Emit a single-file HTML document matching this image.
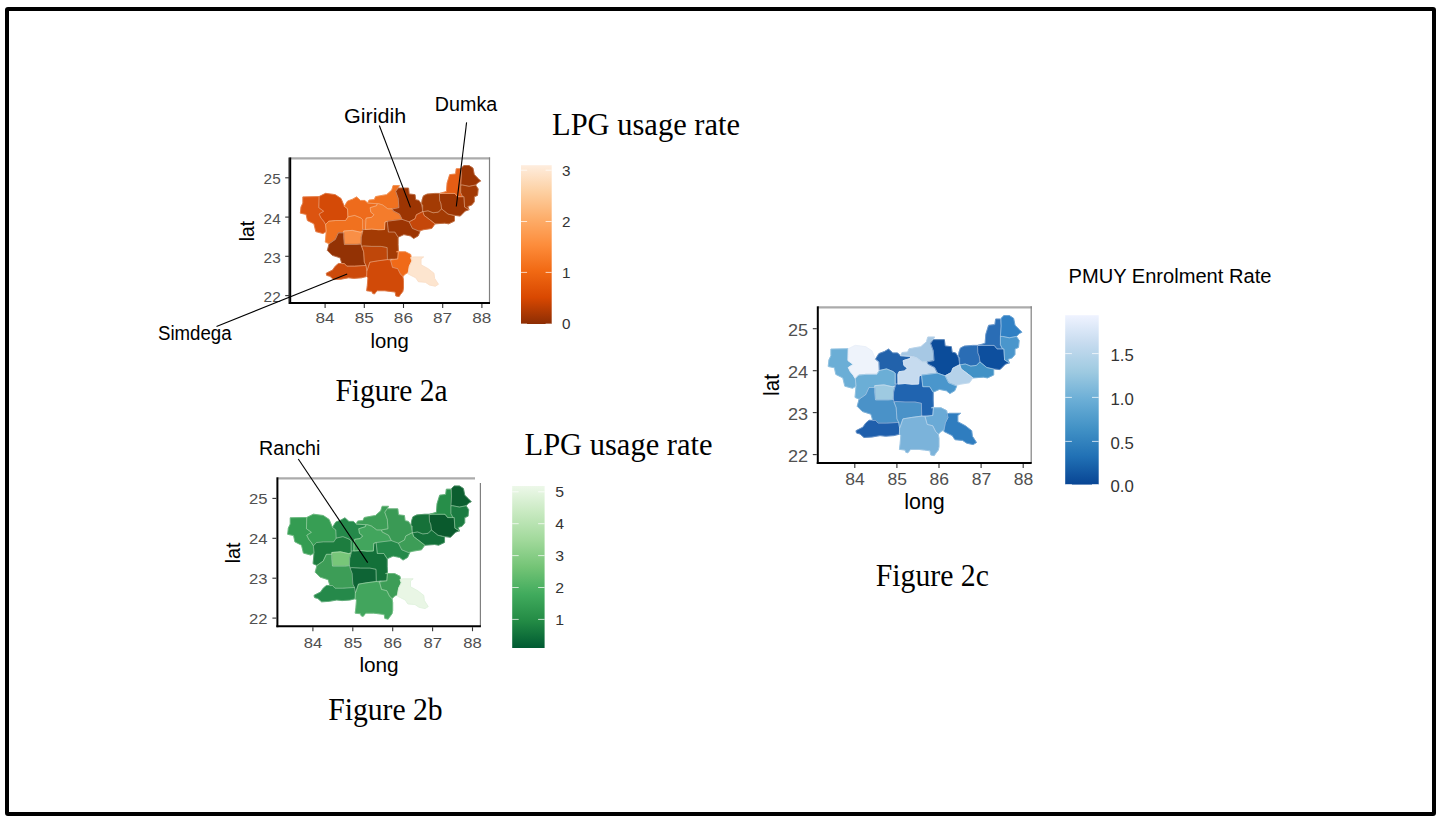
<!DOCTYPE html><html><head><meta charset="utf-8"><title>Figure 2</title><style>
html,body{margin:0;padding:0;background:#fff;}
body{width:1443px;height:821px;overflow:hidden;position:relative;}
svg{position:absolute;left:0;top:0;}
.s{font-family:"Liberation Sans", sans-serif;} .r{font-family:"Liberation Serif", serif;}
</style></head><body>
<svg width="1443" height="821" viewBox="0 0 1443 821">
<rect x="7" y="9" width="1427" height="805" rx="1" fill="none" stroke="#000" stroke-width="4"/>
<defs>
<linearGradient id="ga" x1="0" y1="1" x2="0" y2="0">
<stop offset="0.0000" stop-color="#8c2d04"/>
<stop offset="0.1667" stop-color="#d94801"/>
<stop offset="0.3333" stop-color="#f16913"/>
<stop offset="0.5000" stop-color="#fd8d3c"/>
<stop offset="0.6667" stop-color="#fdae6b"/>
<stop offset="0.8333" stop-color="#fdd0a2"/>
<stop offset="1.0000" stop-color="#feedde"/>
</linearGradient>
<linearGradient id="gb" x1="0" y1="1" x2="0" y2="0">
<stop offset="0.0000" stop-color="#005a32"/>
<stop offset="0.1667" stop-color="#238b45"/>
<stop offset="0.3333" stop-color="#41ab5d"/>
<stop offset="0.5000" stop-color="#74c476"/>
<stop offset="0.6667" stop-color="#a1d99b"/>
<stop offset="0.8333" stop-color="#c7e9c0"/>
<stop offset="1.0000" stop-color="#edf8e9"/>
</linearGradient>
<linearGradient id="gc" x1="0" y1="1" x2="0" y2="0">
<stop offset="0.0000" stop-color="#084594"/>
<stop offset="0.1667" stop-color="#2171b5"/>
<stop offset="0.3333" stop-color="#4292c6"/>
<stop offset="0.5000" stop-color="#6baed6"/>
<stop offset="0.6667" stop-color="#9ecae1"/>
<stop offset="0.8333" stop-color="#c6dbef"/>
<stop offset="1.0000" stop-color="#eff3ff"/>
</linearGradient>
</defs>
<g transform="matrix(0.93112 0 0 0.93567 -470.818 -129.754)">
<path d="M830.9 349.1 848.3 348.8 848.0 360.6 853.2 364.4 848.3 367.5 850.4 371.7 853.2 375.1 855.3 378.6 856.0 386.2 852.5 388.3 844.8 386.2 842.8 377.9 835.8 374.4 834.4 367.8 828.2 366.5 828.9 359.9 830.9 355.7Z" fill="#dc5410" stroke="#dc5410" stroke-width="0.9" stroke-linejoin="round"/>
<path d="M848.3 348.8 855.3 345.3 865.7 346.7 871.9 350.8 875.4 359.2 878.9 361.9 879.3 370.5 876.8 374.4 865.7 374.4 858.7 375.1 855.3 378.6 853.2 375.1 850.4 371.7 848.3 367.5 853.2 364.4 848.0 360.6Z" fill="#d44a07" stroke="#d44a07" stroke-width="0.9" stroke-linejoin="round"/>
<path d="M875.4 359.2 878.9 353.6 884.4 351.5 888.6 349.1 892.8 352.9 897.6 352.9 900.4 355.7 910.8 356.4 910.1 358.5 903.2 360.6 903.9 365.4 907.3 368.2 904.6 371.0 899.0 371.7 898.0 384.0 895.2 384.0 895.2 373.5 893.4 371.7 886.5 368.9 879.3 370.5 878.9 361.9Z" fill="#ee6b1c" stroke="#ee6b1c" stroke-width="0.9" stroke-linejoin="round"/>
<path d="M855.3 378.6 858.7 375.1 865.7 374.4 876.8 374.4 879.3 370.5 886.5 368.9 893.4 371.7 895.2 373.5 895.2 386.0 892.5 386.8 884.0 384.9 874.8 385.6 874.8 387.5 869.0 387.5 865.7 394.6 859.1 399.2 855.0 397.4 856.0 386.2Z" fill="#f0711f" stroke="#f0711f" stroke-width="0.9" stroke-linejoin="round"/>
<path d="M874.8 385.6 884.0 384.9 892.5 386.8 895.2 386.0 893.6 392.0 893.4 399.4 888.5 399.9 875.5 399.9 874.8 392.0 874.8 387.5Z" fill="#f98f46" stroke="#f98f46" stroke-width="0.9" stroke-linejoin="round"/>
<path d="M869.0 387.5 874.8 387.5 874.8 392.0 875.5 399.9 888.5 399.9 893.4 399.4 894.0 402.0 896.2 407.8 896.9 418.9 898.7 422.4 886.5 423.1 878.2 423.1 875.4 420.3 872.8 420.6 870.9 414.2 862.4 411.5 857.2 406.3 859.1 399.2 865.7 394.6Z" fill="#933204" stroke="#933204" stroke-width="0.9" stroke-linejoin="round"/>
<path d="M856.0 430.7 862.9 427.2 865.7 423.1 869.1 420.3 875.4 420.3 878.2 423.1 886.5 423.1 898.7 422.4 899.6 428.0 899.4 434.2 893.9 435.6 885.6 436.2 880.0 435.6 872.0 437.0 864.0 437.5 860.0 434.0 856.5 433.0Z" fill="#cc4a0b" stroke="#cc4a0b" stroke-width="0.9" stroke-linejoin="round"/>
<path d="M894.0 402.0 896.0 401.5 905.0 402.0 915.0 402.0 921.4 403.3 921.7 416.1 911.2 417.5 902.9 418.9 900.1 427.2 899.6 428.0 898.7 422.4 896.9 418.9 896.2 407.8Z" fill="#bf470a" stroke="#bf470a" stroke-width="0.9" stroke-linejoin="round"/>
<path d="M895.2 384.0 898.0 384.0 905.0 383.5 912.0 384.2 918.6 384.0 919.0 376.0 921.5 375.1 922.8 386.7 929.7 386.7 933.2 392.2 933.2 400.0 933.5 407.0 932.8 415.4 926.0 415.4 921.7 416.1 921.4 403.3 915.0 402.0 905.0 402.0 896.0 401.5 894.0 402.0 893.4 399.4 893.6 392.0 895.2 386.0Z" fill="#a33b04" stroke="#a33b04" stroke-width="0.9" stroke-linejoin="round"/>
<path d="M903.2 360.6 910.1 358.5 910.8 356.4 912.5 356.4 916.7 357.8 922.2 361.9 927.1 361.9 927.8 364.0 934.7 367.5 937.5 373.1 921.5 375.1 919.0 376.0 918.6 384.0 912.0 384.2 905.0 383.5 898.0 384.0 897.8 374.4 899.0 371.7 904.6 371.0 907.3 368.2 903.9 365.4Z" fill="#f47c2c" stroke="#f47c2c" stroke-width="0.9" stroke-linejoin="round"/>
<path d="M902.0 352.5 907.6 352.0 909.0 348.8 916.0 347.5 920.8 346.7 926.4 341.8 927.8 337.0 934.7 337.0 930.6 343.2 933.3 350.8 934.0 360.6 927.1 361.9 922.2 361.9 916.7 357.8 912.5 356.4 910.8 356.4 900.4 355.7Z" fill="#f0711f" stroke="#f0711f" stroke-width="0.9" stroke-linejoin="round"/>
<path d="M930.6 343.2 933.3 339.7 944.4 339.7 945.1 346.0 951.4 346.7 952.1 352.2 955.6 352.9 958.3 357.1 959.7 364.7 952.8 368.2 951.4 372.4 945.1 375.8 937.5 373.1 934.7 367.5 927.8 364.0 927.1 361.9 934.0 360.6 933.3 350.8Z" fill="#9c3503" stroke="#9c3503" stroke-width="0.9" stroke-linejoin="round"/>
<path d="M960.4 348.0 964.3 346.1 972.6 345.4 977.5 345.4 977.8 352.9 979.2 356.4 979.9 361.9 976.4 365.4 970.8 366.1 965.3 364.0 961.1 364.7 959.7 364.7 959.7 357.8 958.3 357.1 959.0 352.0Z" fill="#a33b04" stroke="#a33b04" stroke-width="0.9" stroke-linejoin="round"/>
<path d="M977.5 345.4 994.2 345.4 997.0 348.9 1003.9 348.9 1004.6 360.0 1009.4 362.8 1005.3 364.2 1000.0 369.6 994.4 368.9 986.8 367.5 979.9 361.9 979.2 356.4 977.8 352.9Z" fill="#9c3503" stroke="#9c3503" stroke-width="0.9" stroke-linejoin="round"/>
<path d="M978.0 345.4 985.1 343.3 985.8 334.3 988.6 325.3 994.9 324.6 995.6 319.0 1000.4 319.0 1001.1 326.0 1000.4 336.4 1000.4 344.7 1002.5 348.9 997.0 348.9 994.2 345.4Z" fill="#e65d14" stroke="#e65d14" stroke-width="0.9" stroke-linejoin="round"/>
<path d="M1001.1 318.3 1003.9 315.6 1009.4 315.6 1013.6 318.3 1015.0 325.3 1019.2 329.4 1021.9 332.2 1019.2 333.6 1016.4 336.4 1009.4 337.8 1002.5 336.4 1000.4 336.4 1001.1 326.0Z" fill="#9c3503" stroke="#9c3503" stroke-width="0.9" stroke-linejoin="round"/>
<path d="M1000.4 336.4 1002.5 336.4 1009.4 337.8 1016.4 336.4 1019.2 340.6 1018.5 347.5 1015.0 348.9 1015.0 354.4 1012.2 357.9 1008.0 359.3 1009.4 362.8 1004.6 360.0 1003.9 348.9 1002.5 348.9 1000.4 344.7Z" fill="#a23a05" stroke="#a23a05" stroke-width="0.9" stroke-linejoin="round"/>
<path d="M959.7 364.7 961.1 364.7 965.3 364.0 970.8 366.1 976.4 365.4 979.9 361.9 986.8 367.5 993.7 369.3 993.7 375.0 987.5 377.9 983.3 377.2 972.9 377.9 966.7 373.1 961.1 368.9Z" fill="#a33b04" stroke="#a33b04" stroke-width="0.9" stroke-linejoin="round"/>
<path d="M951.4 372.4 952.8 368.2 959.7 364.7 961.1 368.9 966.7 373.1 972.9 377.9 969.4 382.8 960.4 384.2 955.6 385.6 948.6 382.8 945.1 375.8Z" fill="#c5470a" stroke="#c5470a" stroke-width="0.9" stroke-linejoin="round"/>
<path d="M921.5 375.1 937.5 373.1 945.1 375.8 948.6 382.8 955.6 385.6 956.8 386.0 954.7 390.8 949.9 393.6 946.4 390.8 939.4 389.4 933.2 392.2 929.7 386.7 922.8 386.7Z" fill="#9c3503" stroke="#9c3503" stroke-width="0.9" stroke-linejoin="round"/>
<path d="M931.4 407.8 941.1 407.8 946.7 410.6 948.0 417.5 945.3 423.0 943.9 430.0 941.1 431.4 938.3 434.2 935.6 431.4 934.9 430.0 932.8 425.8 927.2 424.4 925.1 416.8 932.8 415.4 933.5 407.0Z" fill="#f06a18" stroke="#f06a18" stroke-width="0.9" stroke-linejoin="round"/>
<path d="M902.9 418.9 911.2 417.5 921.7 416.1 925.1 416.8 927.2 424.4 932.8 425.8 934.9 430.0 935.6 431.4 938.3 434.2 939.0 438.3 939.0 446.7 938.3 450.1 935.6 453.6 934.2 455.7 930.7 455.0 930.0 450.8 924.4 450.1 918.9 449.4 910.6 449.4 907.8 452.9 905.7 452.2 905.0 450.1 899.4 449.4 900.1 443.9 900.8 435.6 899.4 434.2 899.6 428.0 900.1 427.2Z" fill="#d14a08" stroke="#d14a08" stroke-width="0.9" stroke-linejoin="round"/>
<path d="M946.7 414.0 949.4 413.3 960.6 413.3 957.8 415.4 957.8 421.7 965.4 425.8 971.7 430.7 972.4 436.2 976.5 442.5 973.1 444.6 966.8 443.2 962.6 440.4 955.0 439.7 952.2 435.6 943.9 431.4 945.3 423.0 948.0 417.5Z" fill="#fde5cf" stroke="#fde5cf" stroke-width="0.9" stroke-linejoin="round"/>
<path d="M830.9 349.1 848.3 348.8 848.0 360.6 853.2 364.4 848.3 367.5 850.4 371.7 853.2 375.1 855.3 378.6 856.0 386.2 852.5 388.3 844.8 386.2 842.8 377.9 835.8 374.4 834.4 367.8 828.2 366.5 828.9 359.9 830.9 355.7ZM848.3 348.8 855.3 345.3 865.7 346.7 871.9 350.8 875.4 359.2 878.9 361.9 879.3 370.5 876.8 374.4 865.7 374.4 858.7 375.1 855.3 378.6 853.2 375.1 850.4 371.7 848.3 367.5 853.2 364.4 848.0 360.6ZM875.4 359.2 878.9 353.6 884.4 351.5 888.6 349.1 892.8 352.9 897.6 352.9 900.4 355.7 910.8 356.4 910.1 358.5 903.2 360.6 903.9 365.4 907.3 368.2 904.6 371.0 899.0 371.7 898.0 384.0 895.2 384.0 895.2 373.5 893.4 371.7 886.5 368.9 879.3 370.5 878.9 361.9ZM855.3 378.6 858.7 375.1 865.7 374.4 876.8 374.4 879.3 370.5 886.5 368.9 893.4 371.7 895.2 373.5 895.2 386.0 892.5 386.8 884.0 384.9 874.8 385.6 874.8 387.5 869.0 387.5 865.7 394.6 859.1 399.2 855.0 397.4 856.0 386.2ZM874.8 385.6 884.0 384.9 892.5 386.8 895.2 386.0 893.6 392.0 893.4 399.4 888.5 399.9 875.5 399.9 874.8 392.0 874.8 387.5ZM869.0 387.5 874.8 387.5 874.8 392.0 875.5 399.9 888.5 399.9 893.4 399.4 894.0 402.0 896.2 407.8 896.9 418.9 898.7 422.4 886.5 423.1 878.2 423.1 875.4 420.3 872.8 420.6 870.9 414.2 862.4 411.5 857.2 406.3 859.1 399.2 865.7 394.6ZM856.0 430.7 862.9 427.2 865.7 423.1 869.1 420.3 875.4 420.3 878.2 423.1 886.5 423.1 898.7 422.4 899.6 428.0 899.4 434.2 893.9 435.6 885.6 436.2 880.0 435.6 872.0 437.0 864.0 437.5 860.0 434.0 856.5 433.0ZM894.0 402.0 896.0 401.5 905.0 402.0 915.0 402.0 921.4 403.3 921.7 416.1 911.2 417.5 902.9 418.9 900.1 427.2 899.6 428.0 898.7 422.4 896.9 418.9 896.2 407.8ZM895.2 384.0 898.0 384.0 905.0 383.5 912.0 384.2 918.6 384.0 919.0 376.0 921.5 375.1 922.8 386.7 929.7 386.7 933.2 392.2 933.2 400.0 933.5 407.0 932.8 415.4 926.0 415.4 921.7 416.1 921.4 403.3 915.0 402.0 905.0 402.0 896.0 401.5 894.0 402.0 893.4 399.4 893.6 392.0 895.2 386.0ZM903.2 360.6 910.1 358.5 910.8 356.4 912.5 356.4 916.7 357.8 922.2 361.9 927.1 361.9 927.8 364.0 934.7 367.5 937.5 373.1 921.5 375.1 919.0 376.0 918.6 384.0 912.0 384.2 905.0 383.5 898.0 384.0 897.8 374.4 899.0 371.7 904.6 371.0 907.3 368.2 903.9 365.4ZM902.0 352.5 907.6 352.0 909.0 348.8 916.0 347.5 920.8 346.7 926.4 341.8 927.8 337.0 934.7 337.0 930.6 343.2 933.3 350.8 934.0 360.6 927.1 361.9 922.2 361.9 916.7 357.8 912.5 356.4 910.8 356.4 900.4 355.7ZM930.6 343.2 933.3 339.7 944.4 339.7 945.1 346.0 951.4 346.7 952.1 352.2 955.6 352.9 958.3 357.1 959.7 364.7 952.8 368.2 951.4 372.4 945.1 375.8 937.5 373.1 934.7 367.5 927.8 364.0 927.1 361.9 934.0 360.6 933.3 350.8ZM960.4 348.0 964.3 346.1 972.6 345.4 977.5 345.4 977.8 352.9 979.2 356.4 979.9 361.9 976.4 365.4 970.8 366.1 965.3 364.0 961.1 364.7 959.7 364.7 959.7 357.8 958.3 357.1 959.0 352.0ZM977.5 345.4 994.2 345.4 997.0 348.9 1003.9 348.9 1004.6 360.0 1009.4 362.8 1005.3 364.2 1000.0 369.6 994.4 368.9 986.8 367.5 979.9 361.9 979.2 356.4 977.8 352.9ZM978.0 345.4 985.1 343.3 985.8 334.3 988.6 325.3 994.9 324.6 995.6 319.0 1000.4 319.0 1001.1 326.0 1000.4 336.4 1000.4 344.7 1002.5 348.9 997.0 348.9 994.2 345.4ZM1001.1 318.3 1003.9 315.6 1009.4 315.6 1013.6 318.3 1015.0 325.3 1019.2 329.4 1021.9 332.2 1019.2 333.6 1016.4 336.4 1009.4 337.8 1002.5 336.4 1000.4 336.4 1001.1 326.0ZM1000.4 336.4 1002.5 336.4 1009.4 337.8 1016.4 336.4 1019.2 340.6 1018.5 347.5 1015.0 348.9 1015.0 354.4 1012.2 357.9 1008.0 359.3 1009.4 362.8 1004.6 360.0 1003.9 348.9 1002.5 348.9 1000.4 344.7ZM959.7 364.7 961.1 364.7 965.3 364.0 970.8 366.1 976.4 365.4 979.9 361.9 986.8 367.5 993.7 369.3 993.7 375.0 987.5 377.9 983.3 377.2 972.9 377.9 966.7 373.1 961.1 368.9ZM951.4 372.4 952.8 368.2 959.7 364.7 961.1 368.9 966.7 373.1 972.9 377.9 969.4 382.8 960.4 384.2 955.6 385.6 948.6 382.8 945.1 375.8ZM921.5 375.1 937.5 373.1 945.1 375.8 948.6 382.8 955.6 385.6 956.8 386.0 954.7 390.8 949.9 393.6 946.4 390.8 939.4 389.4 933.2 392.2 929.7 386.7 922.8 386.7ZM931.4 407.8 941.1 407.8 946.7 410.6 948.0 417.5 945.3 423.0 943.9 430.0 941.1 431.4 938.3 434.2 935.6 431.4 934.9 430.0 932.8 425.8 927.2 424.4 925.1 416.8 932.8 415.4 933.5 407.0ZM902.9 418.9 911.2 417.5 921.7 416.1 925.1 416.8 927.2 424.4 932.8 425.8 934.9 430.0 935.6 431.4 938.3 434.2 939.0 438.3 939.0 446.7 938.3 450.1 935.6 453.6 934.2 455.7 930.7 455.0 930.0 450.8 924.4 450.1 918.9 449.4 910.6 449.4 907.8 452.9 905.7 452.2 905.0 450.1 899.4 449.4 900.1 443.9 900.8 435.6 899.4 434.2 899.6 428.0 900.1 427.2ZM946.7 414.0 949.4 413.3 960.6 413.3 957.8 415.4 957.8 421.7 965.4 425.8 971.7 430.7 972.4 436.2 976.5 442.5 973.1 444.6 966.8 443.2 962.6 440.4 955.0 439.7 952.2 435.6 943.9 431.4 945.3 423.0 948.0 417.5Z" fill="none" stroke="#f6d2b8" stroke-opacity="0.6" stroke-width="0.5"/>
</g>
<line x1="290.2" y1="158.4" x2="490.1" y2="158.4" stroke="#ababab" stroke-width="2.2"/>
<line x1="489.5" y1="157.4" x2="489.5" y2="303.0" stroke="#808080" stroke-width="1.2"/>
<line x1="288.8" y1="157.4" x2="288.8" y2="304.0" stroke="#8c8c8c" stroke-width="1.6"/>
<line x1="290.2" y1="157.4" x2="290.2" y2="304.0" stroke="#000" stroke-width="2"/>
<line x1="289.2" y1="303.0" x2="490.0" y2="303.0" stroke="#000" stroke-width="2"/>
<line x1="325.1" y1="304.0" x2="325.1" y2="308.0" stroke="#333" stroke-width="1.1"/>
<line x1="364.3" y1="304.0" x2="364.3" y2="308.0" stroke="#333" stroke-width="1.1"/>
<line x1="403.5" y1="304.0" x2="403.5" y2="308.0" stroke="#333" stroke-width="1.1"/>
<line x1="442.7" y1="304.0" x2="442.7" y2="308.0" stroke="#333" stroke-width="1.1"/>
<line x1="481.9" y1="304.0" x2="481.9" y2="308.0" stroke="#333" stroke-width="1.1"/>
<line x1="289.2" y1="177.8" x2="285.2" y2="177.8" stroke="#333" stroke-width="1.1"/>
<line x1="289.2" y1="217.1" x2="285.2" y2="217.1" stroke="#333" stroke-width="1.1"/>
<line x1="289.2" y1="256.3" x2="285.2" y2="256.3" stroke="#333" stroke-width="1.1"/>
<line x1="289.2" y1="295.6" x2="285.2" y2="295.6" stroke="#333" stroke-width="1.1"/>
<g transform="matrix(0.94774 0 0 0.95068 -497.231 185.912)">
<path d="M830.9 349.1 848.3 348.8 848.0 360.6 853.2 364.4 848.3 367.5 850.4 371.7 853.2 375.1 855.3 378.6 856.0 386.2 852.5 388.3 844.8 386.2 842.8 377.9 835.8 374.4 834.4 367.8 828.2 366.5 828.9 359.9 830.9 355.7Z" fill="#349c52" stroke="#349c52" stroke-width="0.9" stroke-linejoin="round"/>
<path d="M848.3 348.8 855.3 345.3 865.7 346.7 871.9 350.8 875.4 359.2 878.9 361.9 879.3 370.5 876.8 374.4 865.7 374.4 858.7 375.1 855.3 378.6 853.2 375.1 850.4 371.7 848.3 367.5 853.2 364.4 848.0 360.6Z" fill="#379e54" stroke="#379e54" stroke-width="0.9" stroke-linejoin="round"/>
<path d="M875.4 359.2 878.9 353.6 884.4 351.5 888.6 349.1 892.8 352.9 897.6 352.9 900.4 355.7 910.8 356.4 910.1 358.5 903.2 360.6 903.9 365.4 907.3 368.2 904.6 371.0 899.0 371.7 898.0 384.0 895.2 384.0 895.2 373.5 893.4 371.7 886.5 368.9 879.3 370.5 878.9 361.9Z" fill="#25894a" stroke="#25894a" stroke-width="0.9" stroke-linejoin="round"/>
<path d="M855.3 378.6 858.7 375.1 865.7 374.4 876.8 374.4 879.3 370.5 886.5 368.9 893.4 371.7 895.2 373.5 895.2 386.0 892.5 386.8 884.0 384.9 874.8 385.6 874.8 387.5 869.0 387.5 865.7 394.6 859.1 399.2 855.0 397.4 856.0 386.2Z" fill="#1d7d3f" stroke="#1d7d3f" stroke-width="0.9" stroke-linejoin="round"/>
<path d="M874.8 385.6 884.0 384.9 892.5 386.8 895.2 386.0 893.6 392.0 893.4 399.4 888.5 399.9 875.5 399.9 874.8 392.0 874.8 387.5Z" fill="#78c679" stroke="#78c679" stroke-width="0.9" stroke-linejoin="round"/>
<path d="M869.0 387.5 874.8 387.5 874.8 392.0 875.5 399.9 888.5 399.9 893.4 399.4 894.0 402.0 896.2 407.8 896.9 418.9 898.7 422.4 886.5 423.1 878.2 423.1 875.4 420.3 872.8 420.6 870.9 414.2 862.4 411.5 857.2 406.3 859.1 399.2 865.7 394.6Z" fill="#3d9d57" stroke="#3d9d57" stroke-width="0.9" stroke-linejoin="round"/>
<path d="M856.0 430.7 862.9 427.2 865.7 423.1 869.1 420.3 875.4 420.3 878.2 423.1 886.5 423.1 898.7 422.4 899.6 428.0 899.4 434.2 893.9 435.6 885.6 436.2 880.0 435.6 872.0 437.0 864.0 437.5 860.0 434.0 856.5 433.0Z" fill="#25894a" stroke="#25894a" stroke-width="0.9" stroke-linejoin="round"/>
<path d="M894.0 402.0 896.0 401.5 905.0 402.0 915.0 402.0 921.4 403.3 921.7 416.1 911.2 417.5 902.9 418.9 900.1 427.2 899.6 428.0 898.7 422.4 896.9 418.9 896.2 407.8Z" fill="#0e6435" stroke="#0e6435" stroke-width="0.9" stroke-linejoin="round"/>
<path d="M895.2 384.0 898.0 384.0 905.0 383.5 912.0 384.2 918.6 384.0 919.0 376.0 921.5 375.1 922.8 386.7 929.7 386.7 933.2 392.2 933.2 400.0 933.5 407.0 932.8 415.4 926.0 415.4 921.7 416.1 921.4 403.3 915.0 402.0 905.0 402.0 896.0 401.5 894.0 402.0 893.4 399.4 893.6 392.0 895.2 386.0Z" fill="#137039" stroke="#137039" stroke-width="0.9" stroke-linejoin="round"/>
<path d="M903.2 360.6 910.1 358.5 910.8 356.4 912.5 356.4 916.7 357.8 922.2 361.9 927.1 361.9 927.8 364.0 934.7 367.5 937.5 373.1 921.5 375.1 919.0 376.0 918.6 384.0 912.0 384.2 905.0 383.5 898.0 384.0 897.8 374.4 899.0 371.7 904.6 371.0 907.3 368.2 903.9 365.4Z" fill="#42a55d" stroke="#42a55d" stroke-width="0.9" stroke-linejoin="round"/>
<path d="M902.0 352.5 907.6 352.0 909.0 348.8 916.0 347.5 920.8 346.7 926.4 341.8 927.8 337.0 934.7 337.0 930.6 343.2 933.3 350.8 934.0 360.6 927.1 361.9 922.2 361.9 916.7 357.8 912.5 356.4 910.8 356.4 900.4 355.7Z" fill="#3d9e57" stroke="#3d9e57" stroke-width="0.9" stroke-linejoin="round"/>
<path d="M930.6 343.2 933.3 339.7 944.4 339.7 945.1 346.0 951.4 346.7 952.1 352.2 955.6 352.9 958.3 357.1 959.7 364.7 952.8 368.2 951.4 372.4 945.1 375.8 937.5 373.1 934.7 367.5 927.8 364.0 927.1 361.9 934.0 360.6 933.3 350.8Z" fill="#3a9a55" stroke="#3a9a55" stroke-width="0.9" stroke-linejoin="round"/>
<path d="M960.4 348.0 964.3 346.1 972.6 345.4 977.5 345.4 977.8 352.9 979.2 356.4 979.9 361.9 976.4 365.4 970.8 366.1 965.3 364.0 961.1 364.7 959.7 364.7 959.7 357.8 958.3 357.1 959.0 352.0Z" fill="#167139" stroke="#167139" stroke-width="0.9" stroke-linejoin="round"/>
<path d="M977.5 345.4 994.2 345.4 997.0 348.9 1003.9 348.9 1004.6 360.0 1009.4 362.8 1005.3 364.2 1000.0 369.6 994.4 368.9 986.8 367.5 979.9 361.9 979.2 356.4 977.8 352.9Z" fill="#0a5a2d" stroke="#0a5a2d" stroke-width="0.9" stroke-linejoin="round"/>
<path d="M978.0 345.4 985.1 343.3 985.8 334.3 988.6 325.3 994.9 324.6 995.6 319.0 1000.4 319.0 1001.1 326.0 1000.4 336.4 1000.4 344.7 1002.5 348.9 997.0 348.9 994.2 345.4Z" fill="#278e49" stroke="#278e49" stroke-width="0.9" stroke-linejoin="round"/>
<path d="M1001.1 318.3 1003.9 315.6 1009.4 315.6 1013.6 318.3 1015.0 325.3 1019.2 329.4 1021.9 332.2 1019.2 333.6 1016.4 336.4 1009.4 337.8 1002.5 336.4 1000.4 336.4 1001.1 326.0Z" fill="#0b5e2f" stroke="#0b5e2f" stroke-width="0.9" stroke-linejoin="round"/>
<path d="M1000.4 336.4 1002.5 336.4 1009.4 337.8 1016.4 336.4 1019.2 340.6 1018.5 347.5 1015.0 348.9 1015.0 354.4 1012.2 357.9 1008.0 359.3 1009.4 362.8 1004.6 360.0 1003.9 348.9 1002.5 348.9 1000.4 344.7Z" fill="#1b7b41" stroke="#1b7b41" stroke-width="0.9" stroke-linejoin="round"/>
<path d="M959.7 364.7 961.1 364.7 965.3 364.0 970.8 366.1 976.4 365.4 979.9 361.9 986.8 367.5 993.7 369.3 993.7 375.0 987.5 377.9 983.3 377.2 972.9 377.9 966.7 373.1 961.1 368.9Z" fill="#137039" stroke="#137039" stroke-width="0.9" stroke-linejoin="round"/>
<path d="M951.4 372.4 952.8 368.2 959.7 364.7 961.1 368.9 966.7 373.1 972.9 377.9 969.4 382.8 960.4 384.2 955.6 385.6 948.6 382.8 945.1 375.8Z" fill="#3d9d57" stroke="#3d9d57" stroke-width="0.9" stroke-linejoin="round"/>
<path d="M921.5 375.1 937.5 373.1 945.1 375.8 948.6 382.8 955.6 385.6 956.8 386.0 954.7 390.8 949.9 393.6 946.4 390.8 939.4 389.4 933.2 392.2 929.7 386.7 922.8 386.7Z" fill="#25894a" stroke="#25894a" stroke-width="0.9" stroke-linejoin="round"/>
<path d="M931.4 407.8 941.1 407.8 946.7 410.6 948.0 417.5 945.3 423.0 943.9 430.0 941.1 431.4 938.3 434.2 935.6 431.4 934.9 430.0 932.8 425.8 927.2 424.4 925.1 416.8 932.8 415.4 933.5 407.0Z" fill="#3d9d57" stroke="#3d9d57" stroke-width="0.9" stroke-linejoin="round"/>
<path d="M902.9 418.9 911.2 417.5 921.7 416.1 925.1 416.8 927.2 424.4 932.8 425.8 934.9 430.0 935.6 431.4 938.3 434.2 939.0 438.3 939.0 446.7 938.3 450.1 935.6 453.6 934.2 455.7 930.7 455.0 930.0 450.8 924.4 450.1 918.9 449.4 910.6 449.4 907.8 452.9 905.7 452.2 905.0 450.1 899.4 449.4 900.1 443.9 900.8 435.6 899.4 434.2 899.6 428.0 900.1 427.2Z" fill="#42a55d" stroke="#42a55d" stroke-width="0.9" stroke-linejoin="round"/>
<path d="M946.7 414.0 949.4 413.3 960.6 413.3 957.8 415.4 957.8 421.7 965.4 425.8 971.7 430.7 972.4 436.2 976.5 442.5 973.1 444.6 966.8 443.2 962.6 440.4 955.0 439.7 952.2 435.6 943.9 431.4 945.3 423.0 948.0 417.5Z" fill="#e9f6e5" stroke="#e9f6e5" stroke-width="0.9" stroke-linejoin="round"/>
<path d="M830.9 349.1 848.3 348.8 848.0 360.6 853.2 364.4 848.3 367.5 850.4 371.7 853.2 375.1 855.3 378.6 856.0 386.2 852.5 388.3 844.8 386.2 842.8 377.9 835.8 374.4 834.4 367.8 828.2 366.5 828.9 359.9 830.9 355.7ZM848.3 348.8 855.3 345.3 865.7 346.7 871.9 350.8 875.4 359.2 878.9 361.9 879.3 370.5 876.8 374.4 865.7 374.4 858.7 375.1 855.3 378.6 853.2 375.1 850.4 371.7 848.3 367.5 853.2 364.4 848.0 360.6ZM875.4 359.2 878.9 353.6 884.4 351.5 888.6 349.1 892.8 352.9 897.6 352.9 900.4 355.7 910.8 356.4 910.1 358.5 903.2 360.6 903.9 365.4 907.3 368.2 904.6 371.0 899.0 371.7 898.0 384.0 895.2 384.0 895.2 373.5 893.4 371.7 886.5 368.9 879.3 370.5 878.9 361.9ZM855.3 378.6 858.7 375.1 865.7 374.4 876.8 374.4 879.3 370.5 886.5 368.9 893.4 371.7 895.2 373.5 895.2 386.0 892.5 386.8 884.0 384.9 874.8 385.6 874.8 387.5 869.0 387.5 865.7 394.6 859.1 399.2 855.0 397.4 856.0 386.2ZM874.8 385.6 884.0 384.9 892.5 386.8 895.2 386.0 893.6 392.0 893.4 399.4 888.5 399.9 875.5 399.9 874.8 392.0 874.8 387.5ZM869.0 387.5 874.8 387.5 874.8 392.0 875.5 399.9 888.5 399.9 893.4 399.4 894.0 402.0 896.2 407.8 896.9 418.9 898.7 422.4 886.5 423.1 878.2 423.1 875.4 420.3 872.8 420.6 870.9 414.2 862.4 411.5 857.2 406.3 859.1 399.2 865.7 394.6ZM856.0 430.7 862.9 427.2 865.7 423.1 869.1 420.3 875.4 420.3 878.2 423.1 886.5 423.1 898.7 422.4 899.6 428.0 899.4 434.2 893.9 435.6 885.6 436.2 880.0 435.6 872.0 437.0 864.0 437.5 860.0 434.0 856.5 433.0ZM894.0 402.0 896.0 401.5 905.0 402.0 915.0 402.0 921.4 403.3 921.7 416.1 911.2 417.5 902.9 418.9 900.1 427.2 899.6 428.0 898.7 422.4 896.9 418.9 896.2 407.8ZM895.2 384.0 898.0 384.0 905.0 383.5 912.0 384.2 918.6 384.0 919.0 376.0 921.5 375.1 922.8 386.7 929.7 386.7 933.2 392.2 933.2 400.0 933.5 407.0 932.8 415.4 926.0 415.4 921.7 416.1 921.4 403.3 915.0 402.0 905.0 402.0 896.0 401.5 894.0 402.0 893.4 399.4 893.6 392.0 895.2 386.0ZM903.2 360.6 910.1 358.5 910.8 356.4 912.5 356.4 916.7 357.8 922.2 361.9 927.1 361.9 927.8 364.0 934.7 367.5 937.5 373.1 921.5 375.1 919.0 376.0 918.6 384.0 912.0 384.2 905.0 383.5 898.0 384.0 897.8 374.4 899.0 371.7 904.6 371.0 907.3 368.2 903.9 365.4ZM902.0 352.5 907.6 352.0 909.0 348.8 916.0 347.5 920.8 346.7 926.4 341.8 927.8 337.0 934.7 337.0 930.6 343.2 933.3 350.8 934.0 360.6 927.1 361.9 922.2 361.9 916.7 357.8 912.5 356.4 910.8 356.4 900.4 355.7ZM930.6 343.2 933.3 339.7 944.4 339.7 945.1 346.0 951.4 346.7 952.1 352.2 955.6 352.9 958.3 357.1 959.7 364.7 952.8 368.2 951.4 372.4 945.1 375.8 937.5 373.1 934.7 367.5 927.8 364.0 927.1 361.9 934.0 360.6 933.3 350.8ZM960.4 348.0 964.3 346.1 972.6 345.4 977.5 345.4 977.8 352.9 979.2 356.4 979.9 361.9 976.4 365.4 970.8 366.1 965.3 364.0 961.1 364.7 959.7 364.7 959.7 357.8 958.3 357.1 959.0 352.0ZM977.5 345.4 994.2 345.4 997.0 348.9 1003.9 348.9 1004.6 360.0 1009.4 362.8 1005.3 364.2 1000.0 369.6 994.4 368.9 986.8 367.5 979.9 361.9 979.2 356.4 977.8 352.9ZM978.0 345.4 985.1 343.3 985.8 334.3 988.6 325.3 994.9 324.6 995.6 319.0 1000.4 319.0 1001.1 326.0 1000.4 336.4 1000.4 344.7 1002.5 348.9 997.0 348.9 994.2 345.4ZM1001.1 318.3 1003.9 315.6 1009.4 315.6 1013.6 318.3 1015.0 325.3 1019.2 329.4 1021.9 332.2 1019.2 333.6 1016.4 336.4 1009.4 337.8 1002.5 336.4 1000.4 336.4 1001.1 326.0ZM1000.4 336.4 1002.5 336.4 1009.4 337.8 1016.4 336.4 1019.2 340.6 1018.5 347.5 1015.0 348.9 1015.0 354.4 1012.2 357.9 1008.0 359.3 1009.4 362.8 1004.6 360.0 1003.9 348.9 1002.5 348.9 1000.4 344.7ZM959.7 364.7 961.1 364.7 965.3 364.0 970.8 366.1 976.4 365.4 979.9 361.9 986.8 367.5 993.7 369.3 993.7 375.0 987.5 377.9 983.3 377.2 972.9 377.9 966.7 373.1 961.1 368.9ZM951.4 372.4 952.8 368.2 959.7 364.7 961.1 368.9 966.7 373.1 972.9 377.9 969.4 382.8 960.4 384.2 955.6 385.6 948.6 382.8 945.1 375.8ZM921.5 375.1 937.5 373.1 945.1 375.8 948.6 382.8 955.6 385.6 956.8 386.0 954.7 390.8 949.9 393.6 946.4 390.8 939.4 389.4 933.2 392.2 929.7 386.7 922.8 386.7ZM931.4 407.8 941.1 407.8 946.7 410.6 948.0 417.5 945.3 423.0 943.9 430.0 941.1 431.4 938.3 434.2 935.6 431.4 934.9 430.0 932.8 425.8 927.2 424.4 925.1 416.8 932.8 415.4 933.5 407.0ZM902.9 418.9 911.2 417.5 921.7 416.1 925.1 416.8 927.2 424.4 932.8 425.8 934.9 430.0 935.6 431.4 938.3 434.2 939.0 438.3 939.0 446.7 938.3 450.1 935.6 453.6 934.2 455.7 930.7 455.0 930.0 450.8 924.4 450.1 918.9 449.4 910.6 449.4 907.8 452.9 905.7 452.2 905.0 450.1 899.4 449.4 900.1 443.9 900.8 435.6 899.4 434.2 899.6 428.0 900.1 427.2ZM946.7 414.0 949.4 413.3 960.6 413.3 957.8 415.4 957.8 421.7 965.4 425.8 971.7 430.7 972.4 436.2 976.5 442.5 973.1 444.6 966.8 443.2 962.6 440.4 955.0 439.7 952.2 435.6 943.9 431.4 945.3 423.0 948.0 417.5Z" fill="none" stroke="#cfe8cf" stroke-opacity="0.6" stroke-width="0.5"/>
</g>
<line x1="277.4" y1="478.3" x2="475.0" y2="478.3" stroke="#ababab" stroke-width="2.2"/>
<line x1="480.4" y1="483.1" x2="480.4" y2="626.2" stroke="#808080" stroke-width="1.2"/>
<line x1="277.4" y1="477.3" x2="277.4" y2="627.2" stroke="#000" stroke-width="2"/>
<line x1="276.4" y1="626.2" x2="480.9" y2="626.2" stroke="#000" stroke-width="2"/>
<line x1="312.9" y1="627.2" x2="312.9" y2="631.2" stroke="#333" stroke-width="1.1"/>
<line x1="352.8" y1="627.2" x2="352.8" y2="631.2" stroke="#333" stroke-width="1.1"/>
<line x1="392.7" y1="627.2" x2="392.7" y2="631.2" stroke="#333" stroke-width="1.1"/>
<line x1="432.6" y1="627.2" x2="432.6" y2="631.2" stroke="#333" stroke-width="1.1"/>
<line x1="472.5" y1="627.2" x2="472.5" y2="631.2" stroke="#333" stroke-width="1.1"/>
<line x1="276.4" y1="498.4" x2="272.4" y2="498.4" stroke="#333" stroke-width="1.1"/>
<line x1="276.4" y1="538.3" x2="272.4" y2="538.3" stroke="#333" stroke-width="1.1"/>
<line x1="276.4" y1="578.2" x2="272.4" y2="578.2" stroke="#333" stroke-width="1.1"/>
<line x1="276.4" y1="618.1" x2="272.4" y2="618.1" stroke="#333" stroke-width="1.1"/>
<g transform="matrix(1.00000 0 0 1.00000 0.000 0.000)">
<path d="M830.9 349.1 848.3 348.8 848.0 360.6 853.2 364.4 848.3 367.5 850.4 371.7 853.2 375.1 855.3 378.6 856.0 386.2 852.5 388.3 844.8 386.2 842.8 377.9 835.8 374.4 834.4 367.8 828.2 366.5 828.9 359.9 830.9 355.7Z" fill="#6baed6" stroke="#6baed6" stroke-width="0.9" stroke-linejoin="round"/>
<path d="M848.3 348.8 855.3 345.3 865.7 346.7 871.9 350.8 875.4 359.2 878.9 361.9 879.3 370.5 876.8 374.4 865.7 374.4 858.7 375.1 855.3 378.6 853.2 375.1 850.4 371.7 848.3 367.5 853.2 364.4 848.0 360.6Z" fill="#eef3fb" stroke="#eef3fb" stroke-width="0.9" stroke-linejoin="round"/>
<path d="M875.4 359.2 878.9 353.6 884.4 351.5 888.6 349.1 892.8 352.9 897.6 352.9 900.4 355.7 910.8 356.4 910.1 358.5 903.2 360.6 903.9 365.4 907.3 368.2 904.6 371.0 899.0 371.7 898.0 384.0 895.2 384.0 895.2 373.5 893.4 371.7 886.5 368.9 879.3 370.5 878.9 361.9Z" fill="#2262ab" stroke="#2262ab" stroke-width="0.9" stroke-linejoin="round"/>
<path d="M855.3 378.6 858.7 375.1 865.7 374.4 876.8 374.4 879.3 370.5 886.5 368.9 893.4 371.7 895.2 373.5 895.2 386.0 892.5 386.8 884.0 384.9 874.8 385.6 874.8 387.5 869.0 387.5 865.7 394.6 859.1 399.2 855.0 397.4 856.0 386.2Z" fill="#6baed6" stroke="#6baed6" stroke-width="0.9" stroke-linejoin="round"/>
<path d="M874.8 385.6 884.0 384.9 892.5 386.8 895.2 386.0 893.6 392.0 893.4 399.4 888.5 399.9 875.5 399.9 874.8 392.0 874.8 387.5Z" fill="#9ecae1" stroke="#9ecae1" stroke-width="0.9" stroke-linejoin="round"/>
<path d="M869.0 387.5 874.8 387.5 874.8 392.0 875.5 399.9 888.5 399.9 893.4 399.4 894.0 402.0 896.2 407.8 896.9 418.9 898.7 422.4 886.5 423.1 878.2 423.1 875.4 420.3 872.8 420.6 870.9 414.2 862.4 411.5 857.2 406.3 859.1 399.2 865.7 394.6Z" fill="#4a92c8" stroke="#4a92c8" stroke-width="0.9" stroke-linejoin="round"/>
<path d="M856.0 430.7 862.9 427.2 865.7 423.1 869.1 420.3 875.4 420.3 878.2 423.1 886.5 423.1 898.7 422.4 899.6 428.0 899.4 434.2 893.9 435.6 885.6 436.2 880.0 435.6 872.0 437.0 864.0 437.5 860.0 434.0 856.5 433.0Z" fill="#1f5fac" stroke="#1f5fac" stroke-width="0.9" stroke-linejoin="round"/>
<path d="M894.0 402.0 896.0 401.5 905.0 402.0 915.0 402.0 921.4 403.3 921.7 416.1 911.2 417.5 902.9 418.9 900.1 427.2 899.6 428.0 898.7 422.4 896.9 418.9 896.2 407.8Z" fill="#4a92c8" stroke="#4a92c8" stroke-width="0.9" stroke-linejoin="round"/>
<path d="M895.2 384.0 898.0 384.0 905.0 383.5 912.0 384.2 918.6 384.0 919.0 376.0 921.5 375.1 922.8 386.7 929.7 386.7 933.2 392.2 933.2 400.0 933.5 407.0 932.8 415.4 926.0 415.4 921.7 416.1 921.4 403.3 915.0 402.0 905.0 402.0 896.0 401.5 894.0 402.0 893.4 399.4 893.6 392.0 895.2 386.0Z" fill="#2064b0" stroke="#2064b0" stroke-width="0.9" stroke-linejoin="round"/>
<path d="M903.2 360.6 910.1 358.5 910.8 356.4 912.5 356.4 916.7 357.8 922.2 361.9 927.1 361.9 927.8 364.0 934.7 367.5 937.5 373.1 921.5 375.1 919.0 376.0 918.6 384.0 912.0 384.2 905.0 383.5 898.0 384.0 897.8 374.4 899.0 371.7 904.6 371.0 907.3 368.2 903.9 365.4Z" fill="#c6dbef" stroke="#c6dbef" stroke-width="0.9" stroke-linejoin="round"/>
<path d="M902.0 352.5 907.6 352.0 909.0 348.8 916.0 347.5 920.8 346.7 926.4 341.8 927.8 337.0 934.7 337.0 930.6 343.2 933.3 350.8 934.0 360.6 927.1 361.9 922.2 361.9 916.7 357.8 912.5 356.4 910.8 356.4 900.4 355.7Z" fill="#a6c8e4" stroke="#a6c8e4" stroke-width="0.9" stroke-linejoin="round"/>
<path d="M930.6 343.2 933.3 339.7 944.4 339.7 945.1 346.0 951.4 346.7 952.1 352.2 955.6 352.9 958.3 357.1 959.7 364.7 952.8 368.2 951.4 372.4 945.1 375.8 937.5 373.1 934.7 367.5 927.8 364.0 927.1 361.9 934.0 360.6 933.3 350.8Z" fill="#0b4c9a" stroke="#0b4c9a" stroke-width="0.9" stroke-linejoin="round"/>
<path d="M960.4 348.0 964.3 346.1 972.6 345.4 977.5 345.4 977.8 352.9 979.2 356.4 979.9 361.9 976.4 365.4 970.8 366.1 965.3 364.0 961.1 364.7 959.7 364.7 959.7 357.8 958.3 357.1 959.0 352.0Z" fill="#2a6db5" stroke="#2a6db5" stroke-width="0.9" stroke-linejoin="round"/>
<path d="M977.5 345.4 994.2 345.4 997.0 348.9 1003.9 348.9 1004.6 360.0 1009.4 362.8 1005.3 364.2 1000.0 369.6 994.4 368.9 986.8 367.5 979.9 361.9 979.2 356.4 977.8 352.9Z" fill="#0d4f9e" stroke="#0d4f9e" stroke-width="0.9" stroke-linejoin="round"/>
<path d="M978.0 345.4 985.1 343.3 985.8 334.3 988.6 325.3 994.9 324.6 995.6 319.0 1000.4 319.0 1001.1 326.0 1000.4 336.4 1000.4 344.7 1002.5 348.9 997.0 348.9 994.2 345.4Z" fill="#2a6db5" stroke="#2a6db5" stroke-width="0.9" stroke-linejoin="round"/>
<path d="M1001.1 318.3 1003.9 315.6 1009.4 315.6 1013.6 318.3 1015.0 325.3 1019.2 329.4 1021.9 332.2 1019.2 333.6 1016.4 336.4 1009.4 337.8 1002.5 336.4 1000.4 336.4 1001.1 326.0Z" fill="#3080c4" stroke="#3080c4" stroke-width="0.9" stroke-linejoin="round"/>
<path d="M1000.4 336.4 1002.5 336.4 1009.4 337.8 1016.4 336.4 1019.2 340.6 1018.5 347.5 1015.0 348.9 1015.0 354.4 1012.2 357.9 1008.0 359.3 1009.4 362.8 1004.6 360.0 1003.9 348.9 1002.5 348.9 1000.4 344.7Z" fill="#4a96cc" stroke="#4a96cc" stroke-width="0.9" stroke-linejoin="round"/>
<path d="M959.7 364.7 961.1 364.7 965.3 364.0 970.8 366.1 976.4 365.4 979.9 361.9 986.8 367.5 993.7 369.3 993.7 375.0 987.5 377.9 983.3 377.2 972.9 377.9 966.7 373.1 961.1 368.9Z" fill="#4292c6" stroke="#4292c6" stroke-width="0.9" stroke-linejoin="round"/>
<path d="M951.4 372.4 952.8 368.2 959.7 364.7 961.1 368.9 966.7 373.1 972.9 377.9 969.4 382.8 960.4 384.2 955.6 385.6 948.6 382.8 945.1 375.8Z" fill="#b5d2ea" stroke="#b5d2ea" stroke-width="0.9" stroke-linejoin="round"/>
<path d="M921.5 375.1 937.5 373.1 945.1 375.8 948.6 382.8 955.6 385.6 956.8 386.0 954.7 390.8 949.9 393.6 946.4 390.8 939.4 389.4 933.2 392.2 929.7 386.7 922.8 386.7Z" fill="#4a96cc" stroke="#4a96cc" stroke-width="0.9" stroke-linejoin="round"/>
<path d="M931.4 407.8 941.1 407.8 946.7 410.6 948.0 417.5 945.3 423.0 943.9 430.0 941.1 431.4 938.3 434.2 935.6 431.4 934.9 430.0 932.8 425.8 927.2 424.4 925.1 416.8 932.8 415.4 933.5 407.0Z" fill="#6aaad6" stroke="#6aaad6" stroke-width="0.9" stroke-linejoin="round"/>
<path d="M902.9 418.9 911.2 417.5 921.7 416.1 925.1 416.8 927.2 424.4 932.8 425.8 934.9 430.0 935.6 431.4 938.3 434.2 939.0 438.3 939.0 446.7 938.3 450.1 935.6 453.6 934.2 455.7 930.7 455.0 930.0 450.8 924.4 450.1 918.9 449.4 910.6 449.4 907.8 452.9 905.7 452.2 905.0 450.1 899.4 449.4 900.1 443.9 900.8 435.6 899.4 434.2 899.6 428.0 900.1 427.2Z" fill="#7bb3da" stroke="#7bb3da" stroke-width="0.9" stroke-linejoin="round"/>
<path d="M946.7 414.0 949.4 413.3 960.6 413.3 957.8 415.4 957.8 421.7 965.4 425.8 971.7 430.7 972.4 436.2 976.5 442.5 973.1 444.6 966.8 443.2 962.6 440.4 955.0 439.7 952.2 435.6 943.9 431.4 945.3 423.0 948.0 417.5Z" fill="#2f7dbf" stroke="#2f7dbf" stroke-width="0.9" stroke-linejoin="round"/>
<path d="M830.9 349.1 848.3 348.8 848.0 360.6 853.2 364.4 848.3 367.5 850.4 371.7 853.2 375.1 855.3 378.6 856.0 386.2 852.5 388.3 844.8 386.2 842.8 377.9 835.8 374.4 834.4 367.8 828.2 366.5 828.9 359.9 830.9 355.7ZM848.3 348.8 855.3 345.3 865.7 346.7 871.9 350.8 875.4 359.2 878.9 361.9 879.3 370.5 876.8 374.4 865.7 374.4 858.7 375.1 855.3 378.6 853.2 375.1 850.4 371.7 848.3 367.5 853.2 364.4 848.0 360.6ZM875.4 359.2 878.9 353.6 884.4 351.5 888.6 349.1 892.8 352.9 897.6 352.9 900.4 355.7 910.8 356.4 910.1 358.5 903.2 360.6 903.9 365.4 907.3 368.2 904.6 371.0 899.0 371.7 898.0 384.0 895.2 384.0 895.2 373.5 893.4 371.7 886.5 368.9 879.3 370.5 878.9 361.9ZM855.3 378.6 858.7 375.1 865.7 374.4 876.8 374.4 879.3 370.5 886.5 368.9 893.4 371.7 895.2 373.5 895.2 386.0 892.5 386.8 884.0 384.9 874.8 385.6 874.8 387.5 869.0 387.5 865.7 394.6 859.1 399.2 855.0 397.4 856.0 386.2ZM874.8 385.6 884.0 384.9 892.5 386.8 895.2 386.0 893.6 392.0 893.4 399.4 888.5 399.9 875.5 399.9 874.8 392.0 874.8 387.5ZM869.0 387.5 874.8 387.5 874.8 392.0 875.5 399.9 888.5 399.9 893.4 399.4 894.0 402.0 896.2 407.8 896.9 418.9 898.7 422.4 886.5 423.1 878.2 423.1 875.4 420.3 872.8 420.6 870.9 414.2 862.4 411.5 857.2 406.3 859.1 399.2 865.7 394.6ZM856.0 430.7 862.9 427.2 865.7 423.1 869.1 420.3 875.4 420.3 878.2 423.1 886.5 423.1 898.7 422.4 899.6 428.0 899.4 434.2 893.9 435.6 885.6 436.2 880.0 435.6 872.0 437.0 864.0 437.5 860.0 434.0 856.5 433.0ZM894.0 402.0 896.0 401.5 905.0 402.0 915.0 402.0 921.4 403.3 921.7 416.1 911.2 417.5 902.9 418.9 900.1 427.2 899.6 428.0 898.7 422.4 896.9 418.9 896.2 407.8ZM895.2 384.0 898.0 384.0 905.0 383.5 912.0 384.2 918.6 384.0 919.0 376.0 921.5 375.1 922.8 386.7 929.7 386.7 933.2 392.2 933.2 400.0 933.5 407.0 932.8 415.4 926.0 415.4 921.7 416.1 921.4 403.3 915.0 402.0 905.0 402.0 896.0 401.5 894.0 402.0 893.4 399.4 893.6 392.0 895.2 386.0ZM903.2 360.6 910.1 358.5 910.8 356.4 912.5 356.4 916.7 357.8 922.2 361.9 927.1 361.9 927.8 364.0 934.7 367.5 937.5 373.1 921.5 375.1 919.0 376.0 918.6 384.0 912.0 384.2 905.0 383.5 898.0 384.0 897.8 374.4 899.0 371.7 904.6 371.0 907.3 368.2 903.9 365.4ZM902.0 352.5 907.6 352.0 909.0 348.8 916.0 347.5 920.8 346.7 926.4 341.8 927.8 337.0 934.7 337.0 930.6 343.2 933.3 350.8 934.0 360.6 927.1 361.9 922.2 361.9 916.7 357.8 912.5 356.4 910.8 356.4 900.4 355.7ZM930.6 343.2 933.3 339.7 944.4 339.7 945.1 346.0 951.4 346.7 952.1 352.2 955.6 352.9 958.3 357.1 959.7 364.7 952.8 368.2 951.4 372.4 945.1 375.8 937.5 373.1 934.7 367.5 927.8 364.0 927.1 361.9 934.0 360.6 933.3 350.8ZM960.4 348.0 964.3 346.1 972.6 345.4 977.5 345.4 977.8 352.9 979.2 356.4 979.9 361.9 976.4 365.4 970.8 366.1 965.3 364.0 961.1 364.7 959.7 364.7 959.7 357.8 958.3 357.1 959.0 352.0ZM977.5 345.4 994.2 345.4 997.0 348.9 1003.9 348.9 1004.6 360.0 1009.4 362.8 1005.3 364.2 1000.0 369.6 994.4 368.9 986.8 367.5 979.9 361.9 979.2 356.4 977.8 352.9ZM978.0 345.4 985.1 343.3 985.8 334.3 988.6 325.3 994.9 324.6 995.6 319.0 1000.4 319.0 1001.1 326.0 1000.4 336.4 1000.4 344.7 1002.5 348.9 997.0 348.9 994.2 345.4ZM1001.1 318.3 1003.9 315.6 1009.4 315.6 1013.6 318.3 1015.0 325.3 1019.2 329.4 1021.9 332.2 1019.2 333.6 1016.4 336.4 1009.4 337.8 1002.5 336.4 1000.4 336.4 1001.1 326.0ZM1000.4 336.4 1002.5 336.4 1009.4 337.8 1016.4 336.4 1019.2 340.6 1018.5 347.5 1015.0 348.9 1015.0 354.4 1012.2 357.9 1008.0 359.3 1009.4 362.8 1004.6 360.0 1003.9 348.9 1002.5 348.9 1000.4 344.7ZM959.7 364.7 961.1 364.7 965.3 364.0 970.8 366.1 976.4 365.4 979.9 361.9 986.8 367.5 993.7 369.3 993.7 375.0 987.5 377.9 983.3 377.2 972.9 377.9 966.7 373.1 961.1 368.9ZM951.4 372.4 952.8 368.2 959.7 364.7 961.1 368.9 966.7 373.1 972.9 377.9 969.4 382.8 960.4 384.2 955.6 385.6 948.6 382.8 945.1 375.8ZM921.5 375.1 937.5 373.1 945.1 375.8 948.6 382.8 955.6 385.6 956.8 386.0 954.7 390.8 949.9 393.6 946.4 390.8 939.4 389.4 933.2 392.2 929.7 386.7 922.8 386.7ZM931.4 407.8 941.1 407.8 946.7 410.6 948.0 417.5 945.3 423.0 943.9 430.0 941.1 431.4 938.3 434.2 935.6 431.4 934.9 430.0 932.8 425.8 927.2 424.4 925.1 416.8 932.8 415.4 933.5 407.0ZM902.9 418.9 911.2 417.5 921.7 416.1 925.1 416.8 927.2 424.4 932.8 425.8 934.9 430.0 935.6 431.4 938.3 434.2 939.0 438.3 939.0 446.7 938.3 450.1 935.6 453.6 934.2 455.7 930.7 455.0 930.0 450.8 924.4 450.1 918.9 449.4 910.6 449.4 907.8 452.9 905.7 452.2 905.0 450.1 899.4 449.4 900.1 443.9 900.8 435.6 899.4 434.2 899.6 428.0 900.1 427.2ZM946.7 414.0 949.4 413.3 960.6 413.3 957.8 415.4 957.8 421.7 965.4 425.8 971.7 430.7 972.4 436.2 976.5 442.5 973.1 444.6 966.8 443.2 962.6 440.4 955.0 439.7 952.2 435.6 943.9 431.4 945.3 423.0 948.0 417.5Z" fill="none" stroke="#dfe9f5" stroke-opacity="0.6" stroke-width="0.5"/>
</g>
<line x1="817.8" y1="307.3" x2="1031.8" y2="307.3" stroke="#ababab" stroke-width="2.2"/>
<line x1="1031.2" y1="306.3" x2="1031.2" y2="463.0" stroke="#808080" stroke-width="1.2"/>
<line x1="817.8" y1="306.3" x2="817.8" y2="464.0" stroke="#000" stroke-width="2"/>
<line x1="816.8" y1="463.0" x2="1031.7" y2="463.0" stroke="#000" stroke-width="2"/>
<line x1="854.8" y1="464.0" x2="854.8" y2="468.0" stroke="#333" stroke-width="1.1"/>
<line x1="896.9" y1="464.0" x2="896.9" y2="468.0" stroke="#333" stroke-width="1.1"/>
<line x1="939.0" y1="464.0" x2="939.0" y2="468.0" stroke="#333" stroke-width="1.1"/>
<line x1="981.1" y1="464.0" x2="981.1" y2="468.0" stroke="#333" stroke-width="1.1"/>
<line x1="1023.2" y1="464.0" x2="1023.2" y2="468.0" stroke="#333" stroke-width="1.1"/>
<line x1="816.8" y1="328.7" x2="812.8" y2="328.7" stroke="#333" stroke-width="1.1"/>
<line x1="816.8" y1="370.7" x2="812.8" y2="370.7" stroke="#333" stroke-width="1.1"/>
<line x1="816.8" y1="412.6" x2="812.8" y2="412.6" stroke="#333" stroke-width="1.1"/>
<line x1="816.8" y1="454.6" x2="812.8" y2="454.6" stroke="#333" stroke-width="1.1"/>
<rect x="521.0" y="165.2" width="30.7" height="158.8" fill="url(#ga)"/>
<line x1="521.0" y1="170.2" x2="527.1" y2="170.2" stroke="#fff" stroke-opacity="0.8" stroke-width="0.9"/>
<line x1="545.6" y1="170.2" x2="551.7" y2="170.2" stroke="#fff" stroke-opacity="0.8" stroke-width="0.9"/>
<line x1="521.0" y1="221.5" x2="527.1" y2="221.5" stroke="#fff" stroke-opacity="0.8" stroke-width="0.9"/>
<line x1="545.6" y1="221.5" x2="551.7" y2="221.5" stroke="#fff" stroke-opacity="0.8" stroke-width="0.9"/>
<line x1="521.0" y1="272.4" x2="527.1" y2="272.4" stroke="#fff" stroke-opacity="0.8" stroke-width="0.9"/>
<line x1="545.6" y1="272.4" x2="551.7" y2="272.4" stroke="#fff" stroke-opacity="0.8" stroke-width="0.9"/>
<line x1="521.0" y1="324.0" x2="527.1" y2="324.0" stroke="#fff" stroke-opacity="0.8" stroke-width="0.9"/>
<line x1="545.6" y1="324.0" x2="551.7" y2="324.0" stroke="#fff" stroke-opacity="0.8" stroke-width="0.9"/>
<rect x="512.2" y="486.0" width="32.4" height="162.0" fill="url(#gb)"/>
<line x1="512.2" y1="491.8" x2="518.7" y2="491.8" stroke="#fff" stroke-opacity="0.8" stroke-width="0.9"/>
<line x1="538.1" y1="491.8" x2="544.6" y2="491.8" stroke="#fff" stroke-opacity="0.8" stroke-width="0.9"/>
<line x1="512.2" y1="523.7" x2="518.7" y2="523.7" stroke="#fff" stroke-opacity="0.8" stroke-width="0.9"/>
<line x1="538.1" y1="523.7" x2="544.6" y2="523.7" stroke="#fff" stroke-opacity="0.8" stroke-width="0.9"/>
<line x1="512.2" y1="555.6" x2="518.7" y2="555.6" stroke="#fff" stroke-opacity="0.8" stroke-width="0.9"/>
<line x1="538.1" y1="555.6" x2="544.6" y2="555.6" stroke="#fff" stroke-opacity="0.8" stroke-width="0.9"/>
<line x1="512.2" y1="587.5" x2="518.7" y2="587.5" stroke="#fff" stroke-opacity="0.8" stroke-width="0.9"/>
<line x1="538.1" y1="587.5" x2="544.6" y2="587.5" stroke="#fff" stroke-opacity="0.8" stroke-width="0.9"/>
<line x1="512.2" y1="619.4" x2="518.7" y2="619.4" stroke="#fff" stroke-opacity="0.8" stroke-width="0.9"/>
<line x1="538.1" y1="619.4" x2="544.6" y2="619.4" stroke="#fff" stroke-opacity="0.8" stroke-width="0.9"/>
<rect x="1065.2" y="315.2" width="33.5" height="169.4" fill="url(#gc)"/>
<line x1="1065.2" y1="353.6" x2="1071.9" y2="353.6" stroke="#fff" stroke-opacity="0.8" stroke-width="0.9"/>
<line x1="1092.0" y1="353.6" x2="1098.7" y2="353.6" stroke="#fff" stroke-opacity="0.8" stroke-width="0.9"/>
<line x1="1065.2" y1="397.4" x2="1071.9" y2="397.4" stroke="#fff" stroke-opacity="0.8" stroke-width="0.9"/>
<line x1="1092.0" y1="397.4" x2="1098.7" y2="397.4" stroke="#fff" stroke-opacity="0.8" stroke-width="0.9"/>
<line x1="1065.2" y1="441.4" x2="1071.9" y2="441.4" stroke="#fff" stroke-opacity="0.8" stroke-width="0.9"/>
<line x1="1092.0" y1="441.4" x2="1098.7" y2="441.4" stroke="#fff" stroke-opacity="0.8" stroke-width="0.9"/>
<line x1="1065.2" y1="484.6" x2="1071.9" y2="484.6" stroke="#fff" stroke-opacity="0.8" stroke-width="0.9"/>
<line x1="1092.0" y1="484.6" x2="1098.7" y2="484.6" stroke="#fff" stroke-opacity="0.8" stroke-width="0.9"/>
<text class="s" x="343.90" y="122.90" font-size="20.00" fill="#000" textLength="62.30" lengthAdjust="spacingAndGlyphs">Giridih</text>
<text class="s" x="434.80" y="110.90" font-size="20.00" fill="#000" textLength="62.40" lengthAdjust="spacingAndGlyphs">Dumka</text>
<text class="s" x="158.00" y="340.20" font-size="20.00" fill="#000" textLength="73.60" lengthAdjust="spacingAndGlyphs">Simdega</text>
<text class="s" x="259.10" y="455.20" font-size="20.00" fill="#000" textLength="61.20" lengthAdjust="spacingAndGlyphs">Ranchi</text>
<text class="s" x="1068.50" y="283.20" font-size="19.60" fill="#000" textLength="202.90" lengthAdjust="spacingAndGlyphs">PMUY Enrolment Rate</text>
<text class="r" x="552.00" y="135.00" font-size="31.00" fill="#000" textLength="188.00" lengthAdjust="spacingAndGlyphs">LPG usage rate</text>
<text class="r" x="524.50" y="455.10" font-size="31.00" fill="#000" textLength="188.00" lengthAdjust="spacingAndGlyphs">LPG usage rate</text>
<text class="r" x="335.50" y="401.00" font-size="31.00" fill="#000" textLength="112.00" lengthAdjust="spacingAndGlyphs">Figure 2a</text>
<text class="r" x="328.20" y="719.60" font-size="31.00" fill="#000" textLength="114.50" lengthAdjust="spacingAndGlyphs">Figure 2b</text>
<text class="r" x="875.80" y="586.00" font-size="31.00" fill="#000" textLength="113.10" lengthAdjust="spacingAndGlyphs">Figure 2c</text>
<text class="s" x="370.40" y="347.50" font-size="19.80" fill="#000" textLength="38.40" lengthAdjust="spacingAndGlyphs">long</text>
<text class="s" x="359.40" y="671.80" font-size="19.80" fill="#000" textLength="39.30" lengthAdjust="spacingAndGlyphs">long</text>
<text class="s" x="904.20" y="508.60" font-size="21.20" fill="#000" textLength="40.60" lengthAdjust="spacingAndGlyphs">long</text>
<text class="s" x="0" y="0" font-size="19.80" fill="#000" textLength="20.30" lengthAdjust="spacingAndGlyphs" transform="translate(253.90 241.30) rotate(-90)">lat</text>
<text class="s" x="0" y="0" font-size="19.80" fill="#000" textLength="20.90" lengthAdjust="spacingAndGlyphs" transform="translate(239.90 563.30) rotate(-90)">lat</text>
<text class="s" x="0" y="0" font-size="21.20" fill="#000" textLength="21.80" lengthAdjust="spacingAndGlyphs" transform="translate(779.30 395.90) rotate(-90)">lat</text>
<text class="s" x="280.70" y="184.25" font-size="15.10" fill="#505050" textLength="17.10" lengthAdjust="spacingAndGlyphs" text-anchor="end">25</text>
<text class="s" x="267.40" y="504.20" font-size="15.10" fill="#505050" textLength="18.50" lengthAdjust="spacingAndGlyphs" text-anchor="end">25</text>
<text class="s" x="808.00" y="335.60" font-size="16.40" fill="#505050" textLength="20.10" lengthAdjust="spacingAndGlyphs" text-anchor="end">25</text>
<text class="s" x="280.70" y="223.52" font-size="15.10" fill="#505050" textLength="17.10" lengthAdjust="spacingAndGlyphs" text-anchor="end">24</text>
<text class="s" x="267.40" y="544.10" font-size="15.10" fill="#505050" textLength="18.50" lengthAdjust="spacingAndGlyphs" text-anchor="end">24</text>
<text class="s" x="808.00" y="377.57" font-size="16.40" fill="#505050" textLength="20.10" lengthAdjust="spacingAndGlyphs" text-anchor="end">24</text>
<text class="s" x="280.70" y="262.79" font-size="15.10" fill="#505050" textLength="17.10" lengthAdjust="spacingAndGlyphs" text-anchor="end">23</text>
<text class="s" x="267.40" y="584.00" font-size="15.10" fill="#505050" textLength="18.50" lengthAdjust="spacingAndGlyphs" text-anchor="end">23</text>
<text class="s" x="808.00" y="419.54" font-size="16.40" fill="#505050" textLength="20.10" lengthAdjust="spacingAndGlyphs" text-anchor="end">23</text>
<text class="s" x="280.70" y="302.06" font-size="15.10" fill="#505050" textLength="17.10" lengthAdjust="spacingAndGlyphs" text-anchor="end">22</text>
<text class="s" x="267.40" y="623.90" font-size="15.10" fill="#505050" textLength="18.50" lengthAdjust="spacingAndGlyphs" text-anchor="end">22</text>
<text class="s" x="808.00" y="461.51" font-size="16.40" fill="#505050" textLength="20.10" lengthAdjust="spacingAndGlyphs" text-anchor="end">22</text>
<text class="s" x="325.00" y="323.25" font-size="15.10" fill="#505050" textLength="19.10" lengthAdjust="spacingAndGlyphs" text-anchor="middle">84</text>
<text class="s" x="313.00" y="647.90" font-size="15.10" fill="#505050" textLength="18.50" lengthAdjust="spacingAndGlyphs" text-anchor="middle">84</text>
<text class="s" x="855.10" y="484.60" font-size="16.40" fill="#505050" textLength="19.50" lengthAdjust="spacingAndGlyphs" text-anchor="middle">84</text>
<text class="s" x="364.20" y="323.25" font-size="15.10" fill="#505050" textLength="19.10" lengthAdjust="spacingAndGlyphs" text-anchor="middle">85</text>
<text class="s" x="352.90" y="647.90" font-size="15.10" fill="#505050" textLength="18.50" lengthAdjust="spacingAndGlyphs" text-anchor="middle">85</text>
<text class="s" x="897.20" y="484.60" font-size="16.40" fill="#505050" textLength="19.50" lengthAdjust="spacingAndGlyphs" text-anchor="middle">85</text>
<text class="s" x="403.40" y="323.25" font-size="15.10" fill="#505050" textLength="19.10" lengthAdjust="spacingAndGlyphs" text-anchor="middle">86</text>
<text class="s" x="392.80" y="647.90" font-size="15.10" fill="#505050" textLength="18.50" lengthAdjust="spacingAndGlyphs" text-anchor="middle">86</text>
<text class="s" x="939.30" y="484.60" font-size="16.40" fill="#505050" textLength="19.50" lengthAdjust="spacingAndGlyphs" text-anchor="middle">86</text>
<text class="s" x="442.60" y="323.25" font-size="15.10" fill="#505050" textLength="19.10" lengthAdjust="spacingAndGlyphs" text-anchor="middle">87</text>
<text class="s" x="432.70" y="647.90" font-size="15.10" fill="#505050" textLength="18.50" lengthAdjust="spacingAndGlyphs" text-anchor="middle">87</text>
<text class="s" x="981.40" y="484.60" font-size="16.40" fill="#505050" textLength="19.50" lengthAdjust="spacingAndGlyphs" text-anchor="middle">87</text>
<text class="s" x="481.80" y="323.25" font-size="15.10" fill="#505050" textLength="19.10" lengthAdjust="spacingAndGlyphs" text-anchor="middle">88</text>
<text class="s" x="472.60" y="647.90" font-size="15.10" fill="#505050" textLength="18.50" lengthAdjust="spacingAndGlyphs" text-anchor="middle">88</text>
<text class="s" x="1023.50" y="484.60" font-size="16.40" fill="#505050" textLength="19.50" lengthAdjust="spacingAndGlyphs" text-anchor="middle">88</text>
<text class="s" x="561.90" y="175.60" font-size="14.60" fill="#333333" textLength="8.50" lengthAdjust="spacingAndGlyphs">3</text>
<text class="s" x="561.90" y="226.87" font-size="14.60" fill="#333333" textLength="8.50" lengthAdjust="spacingAndGlyphs">2</text>
<text class="s" x="561.90" y="278.14" font-size="14.60" fill="#333333" textLength="8.50" lengthAdjust="spacingAndGlyphs">1</text>
<text class="s" x="561.90" y="329.41" font-size="14.60" fill="#333333" textLength="8.50" lengthAdjust="spacingAndGlyphs">0</text>
<text class="s" x="555.20" y="497.20" font-size="14.60" fill="#333333" textLength="8.80" lengthAdjust="spacingAndGlyphs">5</text>
<text class="s" x="555.20" y="529.10" font-size="14.60" fill="#333333" textLength="8.80" lengthAdjust="spacingAndGlyphs">4</text>
<text class="s" x="555.20" y="561.00" font-size="14.60" fill="#333333" textLength="8.80" lengthAdjust="spacingAndGlyphs">3</text>
<text class="s" x="555.20" y="592.90" font-size="14.60" fill="#333333" textLength="8.80" lengthAdjust="spacingAndGlyphs">2</text>
<text class="s" x="555.20" y="624.80" font-size="14.60" fill="#333333" textLength="8.80" lengthAdjust="spacingAndGlyphs">1</text>
<text class="s" x="1110.50" y="361.30" font-size="16.60" fill="#333333" textLength="23.30" lengthAdjust="spacingAndGlyphs">1.5</text>
<text class="s" x="1110.50" y="405.10" font-size="16.60" fill="#333333" textLength="23.30" lengthAdjust="spacingAndGlyphs">1.0</text>
<text class="s" x="1110.50" y="449.10" font-size="16.60" fill="#333333" textLength="23.30" lengthAdjust="spacingAndGlyphs">0.5</text>
<text class="s" x="1110.50" y="492.35" font-size="16.60" fill="#333333" textLength="23.30" lengthAdjust="spacingAndGlyphs">0.0</text>
<g stroke="#000" stroke-width="1.1" fill="none">
<line x1="379.3" y1="125.5" x2="410.5" y2="207.4"/>
<line x1="466.6" y1="122.4" x2="456.3" y2="206.5"/>
<line x1="216.5" y1="326.4" x2="347.2" y2="274.1"/>
<line x1="298.3" y1="459.0" x2="367.7" y2="562.6"/>
</g>
</svg></body></html>
